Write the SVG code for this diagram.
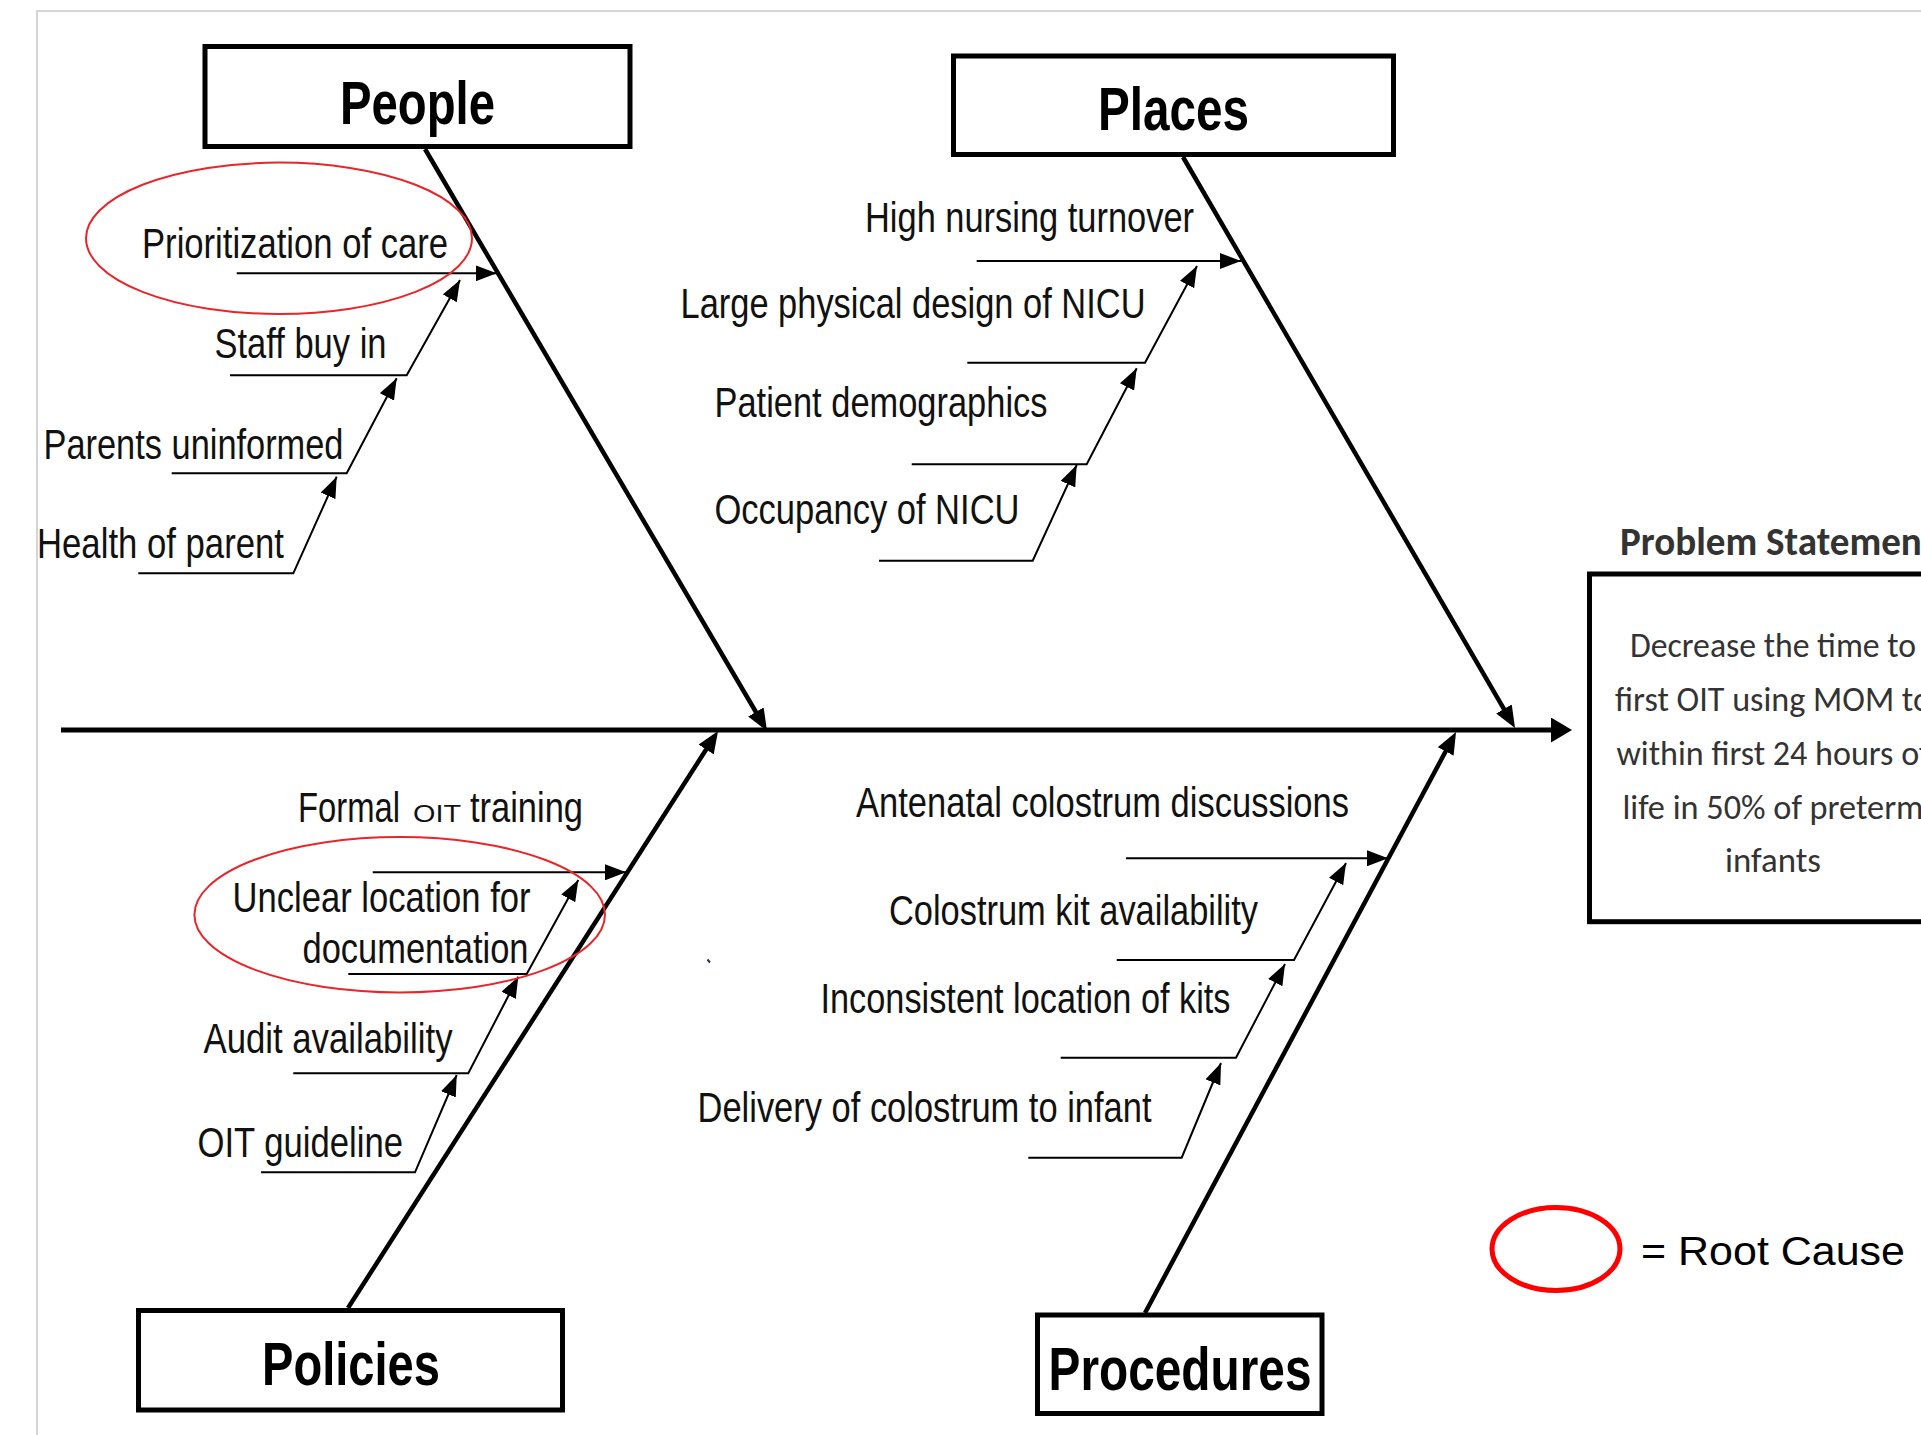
<svg xmlns="http://www.w3.org/2000/svg" width="1921" height="1435" viewBox="0 0 1921 1435">
<style>
.frame{fill:none;stroke:#c8c8c8;stroke-width:1.5}
.box{fill:#fff;stroke:#000;stroke-width:5}
.title{font-family:"Liberation Sans Narrow","Arial Narrow","Liberation Sans",Arial,sans-serif;font-weight:bold;font-size:61px;fill:#000}
.lbl{font-family:"Liberation Sans Narrow","Arial Narrow","Liberation Sans",Arial,sans-serif;font-size:42px;fill:#111}
.bone{stroke:#000;stroke-width:4.5;fill:none}
.spine{stroke:#000;stroke-width:5;fill:none}
.sub{stroke:#000;stroke-width:2;fill:none}
.root{fill:none;stroke:#e8262a;stroke-width:2}
.ps{font-family:"Carlito","Lato","Open Sans",sans-serif;fill:#333}
.leg{font-family:"Liberation Sans",Arial,sans-serif;font-size:41px;fill:#000}
</style>
<defs>
<marker id="ahBig" markerUnits="userSpaceOnUse" markerWidth="24" markerHeight="18" refX="16" refY="9" orient="auto"><path d="M0,0 L22,9 L0,18 z" fill="#000"/></marker>
<marker id="ahSpine" markerUnits="userSpaceOnUse" markerWidth="22" markerHeight="26" refX="13" refY="12.5" orient="auto"><path d="M0,0 L21,12.5 L0,25 z" fill="#000"/></marker>
<marker id="ahSmall" markerUnits="userSpaceOnUse" markerWidth="21" markerHeight="16" refX="21" refY="8" orient="auto"><path d="M0,0 L21,8 L0,16 z" fill="#000"/></marker>
</defs>
<rect width="1921" height="1435" fill="#fff"/>
<rect class="frame" x="37" y="11" width="2000" height="1500"/>

<g id="connectors">
<line class="spine" x1="61" y1="730" x2="1564" y2="730" marker-end="url(#ahSpine)"/>
<line class="bone" x1="425" y1="149" x2="764" y2="725.8" marker-end="url(#ahBig)"/>
<line class="bone" x1="1183" y1="157" x2="1512" y2="722.8" marker-end="url(#ahBig)"/>
<line class="bone" x1="348" y1="1308" x2="714.8" y2="736" marker-end="url(#ahBig)"/>
<line class="bone" x1="1145" y1="1313" x2="1453.2" y2="737.3" marker-end="url(#ahBig)"/>
<path class="sub" d="M236.7,273.3 H496.7" marker-end="url(#ahSmall)"/>
<path class="sub" d="M230,375.3 H406.7 L460,280" marker-end="url(#ahSmall)"/>
<path class="sub" d="M171.7,473.3 H346.7 L396.7,378.3" marker-end="url(#ahSmall)"/>
<path class="sub" d="M138.3,573.3 H293.3 L336.7,476.7" marker-end="url(#ahSmall)"/>
<path class="sub" d="M976.7,261 H1241" marker-end="url(#ahSmall)"/>
<path class="sub" d="M967.3,362.7 H1145 L1197,266" marker-end="url(#ahSmall)"/>
<path class="sub" d="M911.7,464.3 H1086.7 L1136.7,368.3" marker-end="url(#ahSmall)"/>
<path class="sub" d="M879,560.7 H1032.7 L1076.7,465" marker-end="url(#ahSmall)"/>
<path class="sub" d="M372.7,872.3 H626" marker-end="url(#ahSmall)"/>
<path class="sub" d="M348.3,974 H526.7 L578.3,880" marker-end="url(#ahSmall)"/>
<path class="sub" d="M293.3,1073.3 H468.3 L518.3,976.7" marker-end="url(#ahSmall)"/>
<path class="sub" d="M261,1172.3 H415 L456.7,1075" marker-end="url(#ahSmall)"/>
<path class="sub" d="M1126,858.3 H1388" marker-end="url(#ahSmall)"/>
<path class="sub" d="M1116.7,960 H1294 L1346,863" marker-end="url(#ahSmall)"/>
<path class="sub" d="M1060.7,1057.7 H1236 L1285,964" marker-end="url(#ahSmall)"/>
<path class="sub" d="M1028.3,1157.7 H1181.7 L1221,1063" marker-end="url(#ahSmall)"/>
</g>

<g id="people">
<rect class="box" x="205" y="46.5" width="425" height="100"/>
<text class="title" x="340" y="124.3" textLength="155" lengthAdjust="spacingAndGlyphs">People</text>
</g>
<g id="places">
<rect class="box" x="953.5" y="56" width="440" height="98.5"/>
<text class="title" x="1098" y="130" textLength="151" lengthAdjust="spacingAndGlyphs">Places</text>
</g>
<g id="policies">
<rect class="box" x="138.5" y="1310.5" width="424" height="99.5"/>
<text class="title" x="262" y="1385" font-size="60" textLength="178" lengthAdjust="spacingAndGlyphs">Policies</text>
</g>
<g id="procedures">
<rect class="box" x="1037.5" y="1315" width="284.5" height="98.5"/>
<text class="title" x="1048.5" y="1390" textLength="263" lengthAdjust="spacingAndGlyphs">Procedures</text>
</g>

<g id="cause-prioritization">
<ellipse class="root" cx="279" cy="238.3" rx="193" ry="75.7"/>
<text class="lbl" x="142" y="258.3" font-size="43" textLength="306" lengthAdjust="spacingAndGlyphs">Prioritization of care</text>
</g>
<g id="cause-staff"><text class="lbl" x="214.5" y="358.3" font-size="43" textLength="172" lengthAdjust="spacingAndGlyphs">Staff buy in</text></g>
<g id="cause-parents"><text class="lbl" x="43.5" y="459.3" textLength="300" lengthAdjust="spacingAndGlyphs">Parents uninformed</text></g>
<g id="cause-health"><text class="lbl" x="37" y="558.3" textLength="247" lengthAdjust="spacingAndGlyphs">Health of parent</text></g>

<g id="cause-turnover"><text class="lbl" x="865" y="231.7" textLength="329" lengthAdjust="spacingAndGlyphs">High nursing turnover</text></g>
<g id="cause-design"><text class="lbl" x="680.5" y="318.3" textLength="465" lengthAdjust="spacingAndGlyphs">Large physical design of NICU</text></g>
<g id="cause-demographics"><text class="lbl" x="714.5" y="416.7" font-size="41" textLength="333" lengthAdjust="spacingAndGlyphs">Patient demographics</text></g>
<g id="cause-occupancy"><text class="lbl" x="714.5" y="524" font-size="41" textLength="305" lengthAdjust="spacingAndGlyphs">Occupancy of NICU</text></g>

<g id="cause-training"><text class="lbl" y="821.7" font-size="39"><tspan x="298" textLength="102" lengthAdjust="spacingAndGlyphs">Formal</tspan><tspan x="413" font-size="24" textLength="48" lengthAdjust="spacingAndGlyphs">OIT</tspan><tspan x="470" textLength="113" lengthAdjust="spacingAndGlyphs">training</tspan></text></g>
<g id="cause-documentation">
<ellipse class="root" cx="399.7" cy="914.7" rx="205.3" ry="77.7"/>
<text class="lbl" x="232.5" y="911.7" textLength="298" lengthAdjust="spacingAndGlyphs">Unclear location for</text>
<text class="lbl" x="302.5" y="962.7" textLength="226" lengthAdjust="spacingAndGlyphs">documentation</text>
</g>
<g id="cause-audit"><text class="lbl" x="203.5" y="1052.7" font-size="41" textLength="249" lengthAdjust="spacingAndGlyphs">Audit availability</text></g>
<g id="cause-guideline"><text class="lbl" x="197.5" y="1156.7" font-size="40" textLength="205.5" lengthAdjust="spacingAndGlyphs">OIT guideline</text></g>

<g id="cause-antenatal"><text class="lbl" x="856" y="816.7" font-size="40" textLength="493" lengthAdjust="spacingAndGlyphs">Antenatal colostrum discussions</text></g>
<g id="cause-kit"><text class="lbl" x="889" y="925" font-size="40" textLength="369" lengthAdjust="spacingAndGlyphs">Colostrum kit availability</text></g>
<g id="cause-location"><text class="lbl" x="820.5" y="1013.3" font-size="41" textLength="410" lengthAdjust="spacingAndGlyphs">Inconsistent location of kits</text></g>
<g id="cause-delivery"><text class="lbl" x="697.5" y="1121.7" font-size="40" textLength="454" lengthAdjust="spacingAndGlyphs">Delivery of colostrum to infant</text></g>

<line x1="707.5" y1="959.5" x2="710" y2="962.5" stroke="#1f3050" stroke-width="2"/>

<g id="problem">
<text class="ps" x="1620" y="555" font-size="41" font-weight="bold" fill="#111" textLength="315" lengthAdjust="spacingAndGlyphs">Problem Statement</text>
<rect class="box" x="1589.5" y="574" width="420" height="347.7"/>
<g class="ps" font-size="35" text-anchor="middle">
<text x="1773" y="656.7" textLength="286" lengthAdjust="spacingAndGlyphs">Decrease the time to</text>
<text x="1773" y="711" textLength="316" lengthAdjust="spacingAndGlyphs">first OIT using MOM to</text>
<text x="1773" y="765" textLength="313" lengthAdjust="spacingAndGlyphs">within first 24 hours of</text>
<text x="1773" y="819" textLength="301" lengthAdjust="spacingAndGlyphs">life in 50% of preterm</text>
<text x="1773" y="871.7" textLength="96" lengthAdjust="spacingAndGlyphs">infants</text>
</g>
</g>

<g id="legend">
<ellipse cx="1556" cy="1249" rx="64" ry="41.5" fill="none" stroke="#ff0000" stroke-width="5"/>
<text class="leg" x="1641" y="1265" textLength="264" lengthAdjust="spacingAndGlyphs">= Root Cause</text>
</g>
</svg>
